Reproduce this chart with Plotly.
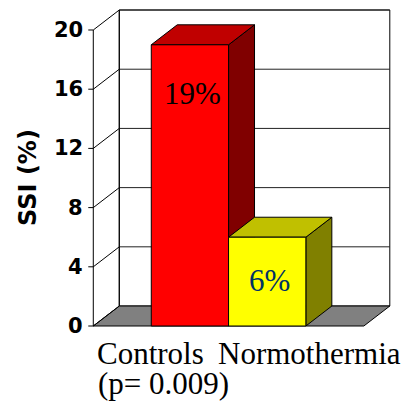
import plotly.graph_objects as go

# ---- data ----
groups = ["Controls", "Normothermia"]
ssi_values = [19, 6]
value_labels = ["19%", "6%"]
p_note = "(p= 0.009)"
y_ticks = [0, 4, 8, 12, 16, 20]
y_title = "SSI (%)"

# ---- style / geometry (data units) ----
front_colors = ["#FF0000", "#FFFF00"]
top_colors = ["#C00000", "#C0C000"]
side_colors = ["#800000", "#808000"]
label_colors = ["#000000", "#003366"]
bar_w = 1.0
gap = 0.75
dx, dy = 0.336, 1.35          # depth offset
ymax = y_ticks[-1]
floor_w = gap * 2 + bar_w * len(ssi_values)

fig = go.Figure()

def poly(xs, ys, fill, line="#000000", width=1):
    fig.add_trace(go.Scatter(x=xs + [xs[0]], y=ys + [ys[0]], mode="lines",
                             fill="toself", fillcolor=fill,
                             line=dict(color=line, width=width),
                             hoverinfo="skip", showlegend=False))

def seg(x0, y0, x1, y1, color="#000000", width=1):
    fig.add_trace(go.Scatter(x=[x0, x1], y=[y0, y1], mode="lines",
                             line=dict(color=color, width=width),
                             hoverinfo="skip", showlegend=False))

# back wall
poly([dx, floor_w + dx, floor_w + dx, dx], [dy, dy, ymax + dy, ymax + dy], "#FFFFFF")
# floor
poly([0, floor_w, floor_w + dx, dx], [0, 0, dy, dy], "#808080")
# gridlines + left wall diagonals
for t in y_ticks:
    if t > 0:
        seg(dx, t + dy, floor_w + dx, t + dy, "#222222")
    seg(0, t, dx, t + dy)
seg(dx, dy, dx, ymax + dy)
# front axis + ticks
seg(0, 0, 0, ymax)
for t in y_ticks:
    seg(-0.065, t, 0, t)

# bars
for i, v in enumerate(ssi_values):
    x0 = gap + i * bar_w
    x1 = x0 + bar_w
    poly([x1, x1 + dx, x1 + dx, x1], [0, dy, v + dy, v], side_colors[i])
    poly([x0, x1, x1 + dx, x0 + dx], [v, v, v + dy, v + dy], top_colors[i])
    poly([x0, x1, x1, x0], [0, 0, v, v], front_colors[i])

# value labels
label_y = [ssi_values[0] - 3.3, ssi_values[1] / 2 + 0.1]
for i, v in enumerate(ssi_values):
    fig.add_annotation(x=gap + i * bar_w + bar_w / 2 + 0.03, y=label_y[i],
                       text=value_labels[i], showarrow=False,
                       font=dict(family="Liberation Serif", size=31, color=label_colors[i]))

# tick labels
for t in y_ticks:
    fig.add_annotation(x=0, y=t, text=str(t), showarrow=False, xanchor="right",
                       xshift=-8, font=dict(family="DejaVu Sans", size=21, color="#000000",
                                            weight="bold"))

# axis title
fig.add_annotation(xref="paper", yref="paper", x=-0.213, y=0.475, text=y_title,
                   textangle=-90, showarrow=False,
                   font=dict(family="DejaVu Sans", size=24, color="#000000", weight="bold"))

# category labels
serif = dict(family="Liberation Serif", size=31, color="#000000")
fig.add_annotation(x=0.745, xref="x", yref="paper", y=-0.134, text=groups[0],
                   showarrow=False, font=serif)
fig.add_annotation(x=2.80, xref="x", yref="paper", y=-0.134, text=groups[1],
                   showarrow=False, font=serif)
fig.add_annotation(x=0.905, xref="x", yref="paper", y=-0.228, text=p_note,
                   showarrow=False, font=serif)

fig.update_layout(
    width=403, height=405,
    margin=dict(l=72, r=11, t=0, b=83),
    paper_bgcolor="#FFFFFF", plot_bgcolor="#FFFFFF",
    xaxis=dict(range=[-0.172, 3.968], visible=False, fixedrange=True),
    yaxis=dict(range=[-0.27, 21.486], visible=False, fixedrange=True),
    showlegend=False,
)
fig.write_html("out.html")
